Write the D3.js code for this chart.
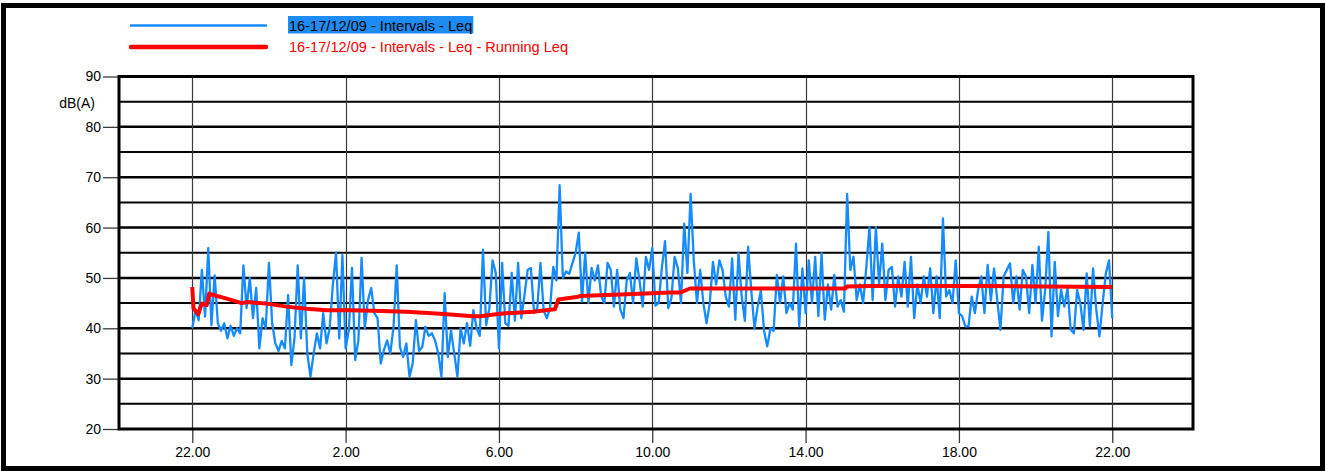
<!DOCTYPE html>
<html><head><meta charset="utf-8">
<script src="https://cdn.jsdelivr.net/npm/d3@7"></script>
<style>html,body{margin:0;padding:0;background:#fff;} svg{display:block;font-family:"Liberation Sans",Arial,sans-serif;}</style>
</head><body><svg id="c" width="1325" height="471"></svg>
<script>
const seriesNames = ["16-17/12/09 - Intervals - Leq", "16-17/12/09 - Intervals - Leq - Running Leq"];
const yLabel = "dB(A)";
const yTickValues = [20,30,40,50,60,70,80,90];
const yGridValues = [25,30,35,40,45,50,55,60,65,70,75,80,85];
const xTickHours = [0,4,8,12,16,20,24];          // hours after 22.00 on day 1
const xTickLabels = ["22.00","2.00","6.00","10.00","14.00","18.00","22.00"];
const intervalMinutes = 5;
// Leq per 5-minute interval starting 22.00
const leqValues = [
40,43.6,41.6,51.6,42.3,55.9,40.6,50.5,41,39.5,41,38,40.5,38.5,40,39,52.5,44,50,42,48,36,42,40,
53,41,37,35.5,37.5,36,46.6,32.7,38,52.5,38,50,35,30.4,35,39,36,43,37,40,48.6,55,38,54.5,
36,39.6,52,33.7,37.6,54,40,45.6,48,43,42,33,35.7,37.6,35,40.3,52.5,36.3,34.3,37,30.4,33,41.6,35.5,
36.3,40.3,38.5,39,37.6,35,30.4,47,34.3,39.6,35,30.4,40,37,41,36.5,43.6,40,38.5,55.6,40.6,44,53.5,51,
36,53,41,40.5,51,41.5,53,42,46.6,51.6,52,43,44,53,43.5,42,44,52.2,49.5,68.4,50,51.3,50.8,52.9,
55,59,45.3,55,45,52,49.5,52.5,46.4,45,53,51.6,44.3,51.6,43.7,42,49.5,51,45,53.9,49.5,44.3,54.2,51.6,
55.9,44.5,45,52,57.3,44,46,54.2,52,45,60.8,51,66.7,53.5,45,51.6,45,41,45,53.2,48.7,53.5,51.6,46.3,
44.3,53.9,41.7,54.9,46.3,41.5,56.2,47.5,40,44.3,47.5,39.5,36.4,40,39.5,50.6,45,50.3,43,45,43.7,56.8,40.4,51.9,
43,53.5,45,54.2,42.4,54.9,41.7,48.7,43.7,50.6,44.3,45.6,43.3,66.7,51.6,54.2,45.6,48.7,45,52,60.1,45.6,60.1,48.7,
56.8,45.6,51.6,52.2,44.3,50.3,46.3,53.2,44.3,54.2,42,48.7,45,50.3,46.3,51.9,43,50.3,42,61.8,46.3,47.6,45,53.5,
43,42.4,40.4,40.4,46.3,43,47.6,50.3,43,52.6,45.5,51.9,45.6,39.7,50.3,51.6,52.9,45,50.3,43.7,51.6,50.3,43,52.6,
45,56.2,41.5,47.6,59.1,38.4,53.2,42.4,47.6,44.3,48,39.7,39,47.6,45,39.7,50.9,40.4,51.9,43.7,38.4,45,50.9,53.5,
42
];
// Running Leq, read at its turning points (hours after 22.00, dB)
const runningHours  = [0,0.03,0.157,0.245,0.376,0.444,0.548,0.897,1.289,1.419,1.941,2.463,2.985,3.506,4.114,4.722,5.593,6.462,7.331,7.506,8.028,8.897,9.332,9.463,9.549,10.029,10.115,11.505,12.463,12.724,12.985,17.029,17.081,17.681,20.812,23.994];
const runningValues = [48.2,44,42.8,44.9,44.6,46.9,46.6,45.9,45.0,45.2,44.9,44.3,43.9,43.6,43.6,43.5,43.3,42.9,42.4,42.4,42.9,43.3,43.7,43.8,45.7,46.2,46.4,46.8,47.1,47.1,47.9,47.9,48.3,48.4,48.4,48.2];

(function(){
const svg = d3.select("#c");
const pL = 119, pR = 1193, pT = 76.5, pB = 429;
const x = d3.scaleLinear().domain([-1.912, 26.107]).range([pL, pR]);
const y = d3.scaleLinear().domain([20, 90]).range([pB, pT]);

// outer frame
svg.append("rect").attr("x",3.5).attr("y",5.5).attr("width",1319).attr("height",463)
  .attr("fill","none").attr("stroke","#000").attr("stroke-width",5);

// horizontal grid
svg.append("g").selectAll("line").data(yGridValues).join("line")
  .attr("x1",pL).attr("x2",pR).attr("y1",d=>y(d)).attr("y2",d=>y(d))
  .attr("stroke","#000").attr("stroke-width",d=>d%10===0?2.5:2);

// vertical grid
svg.append("g").selectAll("line").data(xTickHours).join("line")
  .attr("x1",d=>Math.round(x(d))+0.5).attr("x2",d=>Math.round(x(d))+0.5).attr("y1",pT).attr("y2",pB)
  .attr("stroke","#3a3a3a").attr("stroke-width",1.2);

// axes
const yAxis = svg.append("g").attr("transform",`translate(${pL},0)`)
  .call(d3.axisLeft(y).tickValues(yTickValues).tickSize(16).tickPadding(2).tickFormat(d3.format("d")));
const xAxis = svg.append("g").attr("transform",`translate(0,${pB})`)
  .call(d3.axisBottom(x).tickValues(xTickHours).tickSize(14).tickPadding(4).tickFormat((d,i)=>xTickLabels[i]));
[yAxis,xAxis].forEach(a=>{
  a.select(".domain").remove();
  a.selectAll(".tick line").attr("stroke","#3a3a3a").attr("stroke-width",1.3);
  a.selectAll(".tick text").attr("fill","#000").style("font-size","14px").style("font-family","'Liberation Sans',Arial,sans-serif");
});

svg.append("text").attr("x",95).attr("y",108).attr("text-anchor","end")
  .style("font-size","14px").attr("fill","#000").text(yLabel);

// clip
svg.append("clipPath").attr("id","clip").append("rect")
  .attr("x",pL).attr("y",pT).attr("width",pR-pL).attr("height",pB-pT);

const leqData = leqValues.map((v,i)=>({h:i*intervalMinutes/60, v}));
const runData = runningHours.map((h,i)=>({h, v:runningValues[i]}));
const line = d3.line().x(d=>x(d.h)).y(d=>y(d.v));

svg.append("path").datum(leqData).attr("clip-path","url(#clip)")
  .attr("d",line).attr("fill","none").attr("stroke","#168BFF").attr("stroke-width",2.3).attr("stroke-linejoin","round");
svg.append("path").datum(runData).attr("clip-path","url(#clip)")
  .attr("d",line).attr("fill","none").attr("stroke","#FF0000").attr("stroke-width",4).attr("stroke-linejoin","round");

// plot frame
svg.append("rect").attr("x",pL).attr("y",pT).attr("width",pR-pL).attr("height",pB-pT)
  .attr("fill","none").attr("stroke","#000").attr("stroke-width",3);

// legend
const legendColors = ["#168BFF","#FF0000"];
const legendWidths = [2.5,4.5];
const legendY = [25.5,47];
const lg = svg.append("g");
seriesNames.forEach((name,i)=>{
  lg.append("line").attr("x1",131).attr("x2",266).attr("y1",legendY[i]).attr("y2",legendY[i])
    .attr("stroke",legendColors[i]).attr("stroke-width",legendWidths[i]).attr("stroke-linecap","round");
  const t = lg.append("text").attr("x",289).attr("y",legendY[i]+5).style("font-size","14.6px")
    .attr("fill", i===0 ? "#000" : "#FF0000").text(name);
  if(i===0){
    const bb = t.node().getBBox();
    lg.insert("rect","text").attr("x",bb.x-1).attr("y",16).attr("width",bb.width+2).attr("height",17.5).attr("fill","#1E8CF5");
  }
});
})();
</script></body></html>
